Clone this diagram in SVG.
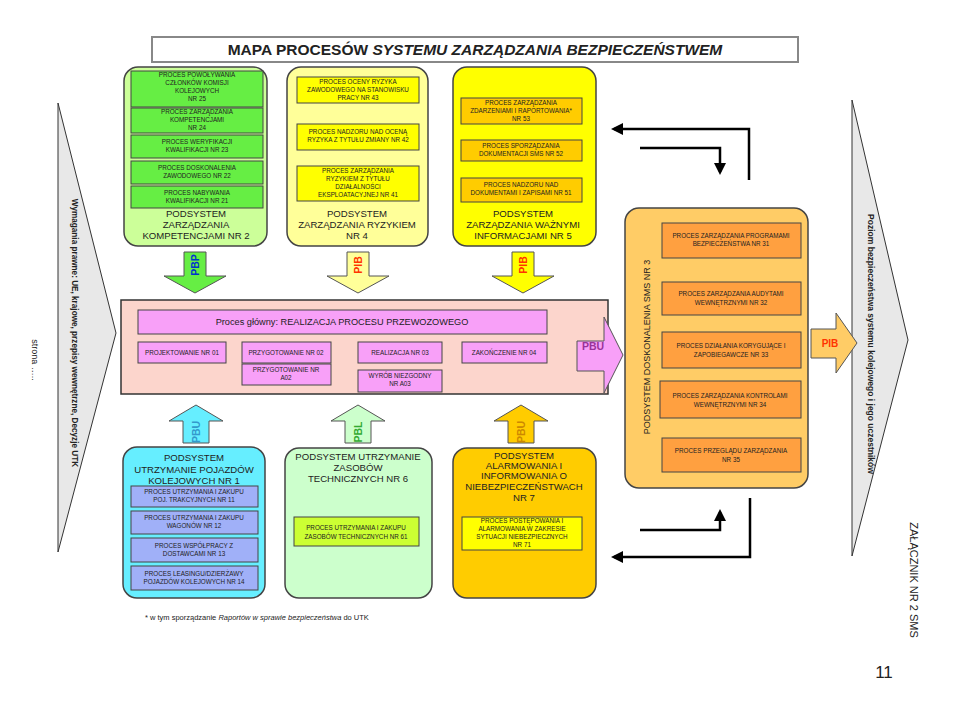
<svg xmlns="http://www.w3.org/2000/svg" width="960" height="720" viewBox="0 0 960 720">
<style>
text{font-family:"Liberation Sans",Arial,sans-serif;fill:#222}
.sub{stroke:#444;stroke-width:1.5}
.in{stroke:#444;stroke-width:1}
.t6{font-size:6.3px;text-anchor:middle}
.t10{font-size:9.6px;text-anchor:middle}
.lbl{font-size:10.5px;font-weight:bold;text-anchor:middle}
.arr{stroke:#555;stroke-width:1}
.con{fill:none;stroke:#000;stroke-width:2.5}
</style>
<defs>
<marker id="ah" markerUnits="userSpaceOnUse" markerWidth="12" markerHeight="12" refX="9" refY="6" orient="auto">
<path d="M0,0 L12,6 L0,12 z" fill="#000"/>
</marker>
</defs>
<rect width="960" height="720" fill="#fff"/>

<g id="title">
<rect x="152" y="37" width="646" height="25" fill="#fff" stroke="#888" stroke-width="2"/>
<text x="475" y="55" style="font-size:15.5px;font-weight:bold;text-anchor:middle">MAPA PROCESÓW <tspan font-style="italic">SYSTEMU ZARZĄDZANIA BEZPIECZEŃSTWEM</tspan></text>
</g>

<g id="left-input">
<polygon points="58,103 116,333 58,552" fill="#e8e8e8" stroke="#333" stroke-width="1"/>
<text transform="translate(72,333) rotate(90)" style="font-size:8.2px;font-weight:bold;text-anchor:middle">Wymagania prawne: UE, krajowe, przepisy wewnętrzne, Decyzje UTK</text>
<text transform="translate(32,360) rotate(90)" style="font-size:9px;text-anchor:middle">strona …..</text>
</g>

<g id="right-output">
<polygon points="852,100 908,340 852,556" fill="#e8e8e8" stroke="#333" stroke-width="1"/>
<text transform="translate(868,344) rotate(90)" style="font-size:8.5px;font-weight:bold;text-anchor:middle">Poziom bezpieczeństwa systemu kolejowego i jego uczestników</text>
<text transform="translate(910,580) rotate(90)" style="font-size:11px;text-anchor:middle">ZAŁĄCZNIK NR 2 SMS</text>
<text x="884" y="678" style="font-size:17px;text-anchor:middle">11</text>
</g>

<g id="sub2">
<rect class="sub" x="124" y="67" width="143" height="179" rx="14" fill="#ccff99"/>
<rect class="in" x="131" y="71" width="132" height="36" fill="#66ee44"/>
<text class="t6" x="197" y="77">PROCES POWOŁYWANIA</text>
<text class="t6" x="197" y="85">CZŁONKÓW KOMISJI</text>
<text class="t6" x="197" y="93">KOLEJOWYCH</text>
<text class="t6" x="197" y="101">NR 25</text>
<rect class="in" x="131" y="108" width="132" height="25" fill="#66ee44"/>
<text class="t6" x="197" y="114">PROCES ZARZĄDZANIA</text>
<text class="t6" x="197" y="122">KOMPETENCJAMI</text>
<text class="t6" x="197" y="130">NR 24</text>
<rect class="in" x="131" y="135" width="132" height="23" fill="#66ee44"/>
<text class="t6" x="197" y="144">PROCES WERYFIKACJI</text>
<text class="t6" x="197" y="152">KWALIFIKACJI NR 23</text>
<rect class="in" x="131" y="161" width="132" height="23" fill="#66ee44"/>
<text class="t6" x="197" y="170">PROCES DOSKONALENIA</text>
<text class="t6" x="197" y="178">ZAWODOWEGO NR 22</text>
<rect class="in" x="131" y="186" width="132" height="22" fill="#66ee44"/>
<text class="t6" x="197" y="195">PROCES NABYWANIA</text>
<text class="t6" x="197" y="203">KWALIFIKACJI NR 21</text>
<text class="t10" x="196" y="217">PODSYSTEM</text>
<text class="t10" x="196" y="228">ZARZĄDZANIA</text>
<text class="t10" x="196" y="239">KOMPETENCJAMI  NR 2</text>
</g>

<g id="sub4">
<rect class="sub" x="287" y="67" width="141" height="179" rx="14" fill="#ffff99"/>
<rect class="in" x="297" y="77" width="122" height="26" fill="#ffff00"/>
<text class="t6" x="358" y="84">PROCES  OCENY RYZYKA</text>
<text class="t6" x="358" y="92">ZAWODOWEGO NA STANOWISKU</text>
<text class="t6" x="358" y="100">PRACY NR 43</text>
<rect class="in" x="297" y="124" width="122" height="26" fill="#ffff00"/>
<text class="t6" x="358" y="134">PROCES NADZORU NAD OCENĄ</text>
<text class="t6" x="358" y="142">RYZYKA Z TYTUŁU ZMIANY NR 42</text>
<rect class="in" x="297" y="166" width="122" height="35" fill="#ffff00"/>
<text class="t6" x="358" y="173">PROCES ZARZĄDZANIA</text>
<text class="t6" x="358" y="181">RYZYKIEM Z TYTUŁU</text>
<text class="t6" x="358" y="189">DZIAŁALNOŚCI</text>
<text class="t6" x="358" y="197">EKSPLOATACYJNEJ NR 41</text>
<text class="t10" x="357" y="217">PODSYSTEM</text>
<text class="t10" x="357" y="228">ZARZĄDZANIA RYZYKIEM</text>
<text class="t10" x="357" y="239">NR 4</text>
</g>

<g id="sub5">
<rect class="sub" x="453" y="67" width="143" height="179" rx="14" fill="#ffff00"/>
<rect class="in" x="461" y="98" width="121" height="26" fill="#ffcc00"/>
<text class="t6" x="521" y="105">PROCES ZARZĄDZANIA</text>
<text class="t6" x="521" y="113">ZDARZENIAMI I RAPORTOWANIA*</text>
<text class="t6" x="521" y="121">NR 53</text>
<rect class="in" x="461" y="140" width="121" height="21" fill="#ffcc00"/>
<text class="t6" x="521" y="148">PROCES SPORZĄDZANIA</text>
<text class="t6" x="521" y="156">DOKUMENTACJI SMS NR 52</text>
<rect class="in" x="461" y="178" width="121" height="24" fill="#ffcc00"/>
<text class="t6" x="521" y="187">PROCES NADZORU NAD</text>
<text class="t6" x="521" y="195">DOKUMENTAMI I ZAPISAMI  NR 51</text>
<text class="t10" x="523" y="217">PODSYSTEM</text>
<text class="t10" x="523" y="228">ZARZĄDZANIA WAŻNYMI</text>
<text class="t10" x="523" y="239">INFORMACJAMI NR 5</text>
</g>

<g id="main">
<rect x="121" y="300" width="487" height="94" fill="#fcd5cc" stroke="#333" stroke-width="1.5"/>
<rect class="in" x="138" y="310" width="409" height="24" fill="#f8a0f8"/>
<text x="342" y="325" style="font-size:9.2px;text-anchor:middle">Proces główny: REALIZACJA PROCESU PRZEWOZOWEGO</text>
<rect class="in" x="138" y="342" width="88" height="21" fill="#f8a0f8"/>
<text class="t6" x="182" y="355">PROJEKTOWANIE NR 01</text>
<rect class="in" x="242" y="342" width="89" height="21" fill="#f8a0f8"/>
<text class="t6" x="286" y="355">PRZYGOTOWANIE NR 02</text>
<rect class="in" x="242" y="364" width="89" height="21" fill="#f8a0f8"/>
<text class="t6" x="286" y="372">PRZYGOTOWANIE NR</text>
<text class="t6" x="286" y="380">A02</text>
<rect class="in" x="358" y="342" width="84" height="21" fill="#f8a0f8"/>
<text class="t6" x="400" y="355">REALIZACJA NR 03</text>
<rect class="in" x="358" y="370" width="84" height="22" fill="#f8a0f8"/>
<text class="t6" x="400" y="378">WYRÓB NIEZGODNY</text>
<text class="t6" x="400" y="386">NR A03</text>
<rect class="in" x="462" y="342" width="85" height="21" fill="#f8a0f8"/>
<text class="t6" x="504" y="355">ZAKOŃCZENIE NR 04</text>
</g>

<g id="sub3">
<rect class="sub" x="625" y="208" width="183" height="280" rx="14" fill="#ffcc66"/>
<text transform="translate(650,347) rotate(-90)" style="font-size:9px;text-anchor:middle">PODSYSTEM DOSKONALENIA SMS NR 3</text>
<rect class="in" x="662" y="223" width="139" height="35" fill="#ffa040"/>
<text class="t6" x="731" y="238">PROCES ZARZĄDZANIA PROGRAMAMI</text>
<text class="t6" x="731" y="246">BEZPIECZEŃSTWA NR 31</text>
<rect class="in" x="662" y="282" width="139" height="33" fill="#ffa040"/>
<text class="t6" x="731" y="296">PROCES ZARZĄDZANIA AUDYTAMI</text>
<text class="t6" x="731" y="305">WEWNĘTRZNYMI NR 32</text>
<rect class="in" x="662" y="332" width="139" height="36" fill="#ffa040"/>
<text class="t6" x="731" y="348">PROCES DZIAŁANIA KORYGUJĄCE I</text>
<text class="t6" x="731" y="357">ZAPOBIEGAWCZE NR 33</text>
<rect class="in" x="660" y="381" width="141" height="37" fill="#ffa040"/>
<text class="t6" x="730" y="398">PROCES ZARZĄDZANIA KONTROLAMI</text>
<text class="t6" x="730" y="407">WEWNĘTRZNYMI NR 34</text>
<rect class="in" x="662" y="438" width="139" height="34" fill="#ffa040"/>
<text class="t6" x="731" y="453">PROCES PRZEGLĄDU  ZARZĄDZANIA</text>
<text class="t6" x="731" y="462">NR 35</text>
</g>

<g id="sub1">
<rect class="sub" x="123" y="447" width="142" height="151" rx="14" fill="#66eeff"/>
<text class="t10" x="194" y="461">PODSYSTEM</text>
<text class="t10" x="194" y="473">UTRZYMANIE POJAZDÓW</text>
<text class="t10" x="194" y="484">KOLEJOWYCH NR 1</text>
<rect class="in" x="131" y="486" width="127" height="21" fill="#a0b0f8"/>
<text class="t6" x="194" y="494">PROCES UTRZYMANIA I ZAKUPU</text>
<text class="t6" x="194" y="502">POJ. TRAKCYJNYCH NR 11</text>
<rect class="in" x="131" y="511" width="127" height="23" fill="#a0b0f8"/>
<text class="t6" x="194" y="520">PROCES UTRZYMANIA I ZAKUPU</text>
<text class="t6" x="194" y="528">WAGONÓW  NR 12</text>
<rect class="in" x="131" y="538" width="127" height="24" fill="#a0b0f8"/>
<text class="t6" x="194" y="548">PROCES WSPÓŁPRACY Z</text>
<text class="t6" x="194" y="556">DOSTAWCAMI NR 13</text>
<rect class="in" x="131" y="566" width="127" height="24" fill="#a0b0f8"/>
<text class="t6" x="194" y="576">PROCES LEASINGU/DZIERŻAWY</text>
<text class="t6" x="194" y="584">POJAZDÓW KOLEJOWYCH NR 14</text>
</g>

<g id="sub6">
<rect class="sub" x="285" y="448" width="147" height="150" rx="14" fill="#ccffcc"/>
<text class="t10" x="358" y="460">PODSYSTEM UTRZYMANIE</text>
<text class="t10" x="358" y="471">ZASOBÓW</text>
<text class="t10" x="358" y="482">TECHNICZNYCH NR 6</text>
<rect class="in" x="294" y="517" width="125" height="29" fill="#ccff33"/>
<text class="t6" x="356" y="530">PROCES UTRZYMANIA I ZAKUPU</text>
<text class="t6" x="356" y="539">ZASOBÓW TECHNICZNYCH  NR 61</text>
</g>

<g id="sub7">
<rect class="sub" x="453" y="448" width="143" height="150" rx="14" fill="#ffcc00"/>
<text class="t10" x="524" y="459">PODSYSTEM</text>
<text class="t10" x="524" y="469">ALARMOWANIA I</text>
<text class="t10" x="524" y="479">INFORMOWANIA O</text>
<text class="t10" x="524" y="490">NIEBEZPIECZEŃSTWACH</text>
<text class="t10" x="524" y="501">NR 7</text>
<rect class="in" x="462" y="517" width="120" height="33" fill="#ffff00"/>
<text class="t6" x="522" y="523">PROCES POSTĘPOWANIA I</text>
<text class="t6" x="522" y="531">ALARMOWANIA  W ZAKRESIE</text>
<text class="t6" x="522" y="539">SYTUACJI NIEBEZPIECZNYCH</text>
<text class="t6" x="522" y="547">NR 71</text>
</g>

<g id="flow-arrows">
<polygon class="arr" points="184,252 206,252 206,276 226,276 195,293 164,276 184,276" fill="#66ee44"/>
<text class="lbl" transform="translate(199,265) rotate(-90)" style="fill:#0033cc">PBP</text>
<polygon class="arr" points="347,252 369,252 369,276 389,276 358,293 327,276 347,276" fill="#ffff99"/>
<text class="lbl" transform="translate(362,265) rotate(-90)" style="fill:#ff3300">PIB</text>
<polygon class="arr" points="512,252 534,252 534,276 554,276 523,293 492,276 512,276" fill="#ffff00"/>
<text class="lbl" transform="translate(527,265) rotate(-90)" style="fill:#ff3300">PIB</text>

<polygon class="arr" points="196,405 223,421 209,421 209,443 183,443 183,421 169,421" fill="#66eeff"/>
<text class="lbl" transform="translate(200,432) rotate(-90)" style="fill:#3399cc">PBU</text>
<polygon class="arr" points="358,405 385,421 371,421 371,443 345,443 345,421 331,421" fill="#ccffcc"/>
<text class="lbl" transform="translate(362,432) rotate(-90)" style="fill:#33aa33">PBL</text>
<polygon class="arr" points="521,405 548,421 534,421 534,443 508,443 508,421 494,421" fill="#ffcc00"/>
<text class="lbl" transform="translate(525,432) rotate(-90)" style="fill:#cc8800">PBU</text>

<polygon class="arr" points="577,341 604,341 604,317 623,355 604,393 604,371 577,371" fill="#f8a0f8"/>
<text class="lbl" x="593" y="350" style="fill:#993399">PBU</text>
<polygon class="arr" points="811,329 836,329 836,313 857,343 836,373 836,358 811,358" fill="#ffcc66"/>
<text class="lbl" x="830" y="347" style="font-size:10px;fill:#ff3300">PIB</text>
</g>

<g id="connectors">
<path class="con" d="M749,180 V129 H614" marker-end="url(#ah)"/>
<path class="con" d="M640,148 H720 V172" marker-end="url(#ah)"/>
<path class="con" d="M640,530 H720 V512" marker-end="url(#ah)"/>
<path class="con" d="M750,498 V557 H614" marker-end="url(#ah)"/>
</g>

<g id="footnote">
<text x="145" y="620" style="font-size:7.5px">* w tym sporządzanie <tspan font-style="italic">Raportów w sprawie bezpieczeństwa</tspan> do UTK</text>
</g>
</svg>
